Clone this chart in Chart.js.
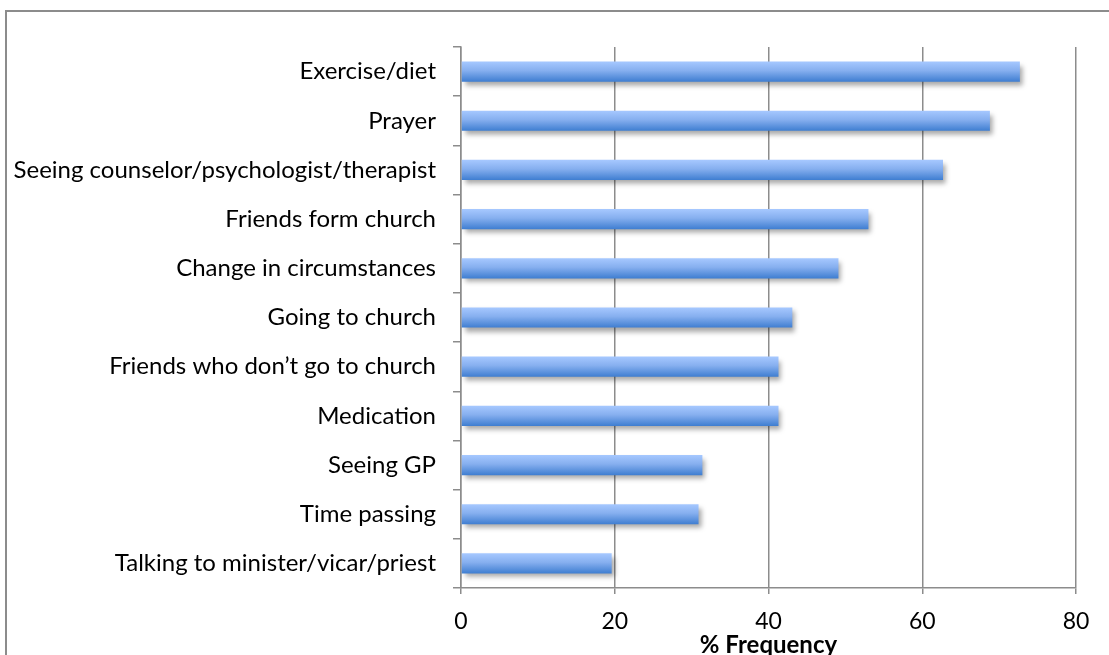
<!DOCTYPE html>
<html>
<head>
<meta charset="utf-8">
<script src="https://cdn.jsdelivr.net/npm/chart.js@4"></script>
<style>
  html, body { margin: 0; padding: 0; background: #fff; }
  #wrap { width: 1109px; height: 655px; }
</style>
</head>
<body>
<div id="wrap"><canvas id="myChart"></canvas></div>
<script>
const categories = [
  'Exercise/diet',
  'Prayer',
  'Seeing counselor/psychologist/therapist',
  'Friends form church',
  'Change in circumstances',
  'Going to church',
  'Friends who don\u2019t go to church',
  'Medication',
  'Seeing GP',
  'Time passing',
  'Talking to minister/vicar/priest'
];
const frequency = [72.7, 68.8, 62.7, 53.0, 49.1, 43.1, 41.3, 41.3, 31.4, 30.9, 19.6];
const xTicks = [0, 20, 40, 60, 80];

const FONT = 'Lato, "Open Sans", sans-serif';
const GREY = '#8c8c8c';

// light-to-dark blue gradient for each bar
function barFill(ctx) {
  const chart = ctx.chart;
  if (!chart.chartArea || !chart.scales.y) return '#7aa5ee';
  const y = chart.scales.y.getPixelForValue(ctx.dataIndex);
  const g = chart.ctx.createLinearGradient(0, y - 10, 0, y + 10);
  g.addColorStop(0, '#a6c8ff');
  g.addColorStop(0.45, '#86afef');
  g.addColorStop(1, '#3f7ed1');
  return g;
}

const frame = {
  id: 'frame',
  beforeDraw(chart) {
    const c = chart.ctx;
    c.save();
    c.strokeStyle = GREY;
    c.lineWidth = 2;
    c.strokeRect(6, 11, 1200, 700);
    c.restore();
  },
  beforeDatasetsDraw(chart) {
    const c = chart.ctx;
    c.save();
    c.shadowColor = 'rgba(0,0,0,0.35)';
    c.shadowBlur = 5;
    c.shadowOffsetX = 3;
    c.shadowOffsetY = 4;
  },
  afterDatasetsDraw(chart) {
    chart.ctx.restore();
  }
};

new Chart('myChart', {
  type: 'bar',
  data: {
    labels: categories,
    datasets: [{
      data: frequency,
      backgroundColor: barFill,
      borderWidth: 0,
      barPercentage: 0.41,
      categoryPercentage: 1
    }]
  },
  options: {
    indexAxis: 'y',
    responsive: true,
    maintainAspectRatio: false,
    animation: false,
    layout: { padding: { top: 47, right: 33, left: 0, bottom: 0 } },
    plugins: {
      legend: { display: false },
      tooltip: { enabled: false }
    },
    scales: {
      x: {
        min: 0,
        max: 80,
        afterBuildTicks: (s) => { s.ticks = xTicks.map(v => ({ value: v })); },
        afterFit: (s) => { s.height = 67; },
        grid: { color: GREY, lineWidth: 1.5, tickLength: 6 },
        border: { color: GREY, width: 1.5 },
        ticks: { color: '#000', padding: 14, font: { family: FONT, size: 23 } },
        title: {
          display: true,
          text: '% Frequency',
          color: '#000',
          padding: { top: 0, bottom: -5 },
          font: { family: FONT, size: 24, weight: 'bold' }
        }
      },
      y: {
        afterFit: (s) => { s.width = 461; },
        grid: { drawOnChartArea: false, color: GREY, lineWidth: 1.5, tickLength: 8 },
        border: { color: GREY, width: 1.5 },
        ticks: { color: '#000', padding: 17, font: { family: FONT, size: 24 } }
      }
    }
  },
  plugins: [frame]
});
</script>
</body>
</html>
